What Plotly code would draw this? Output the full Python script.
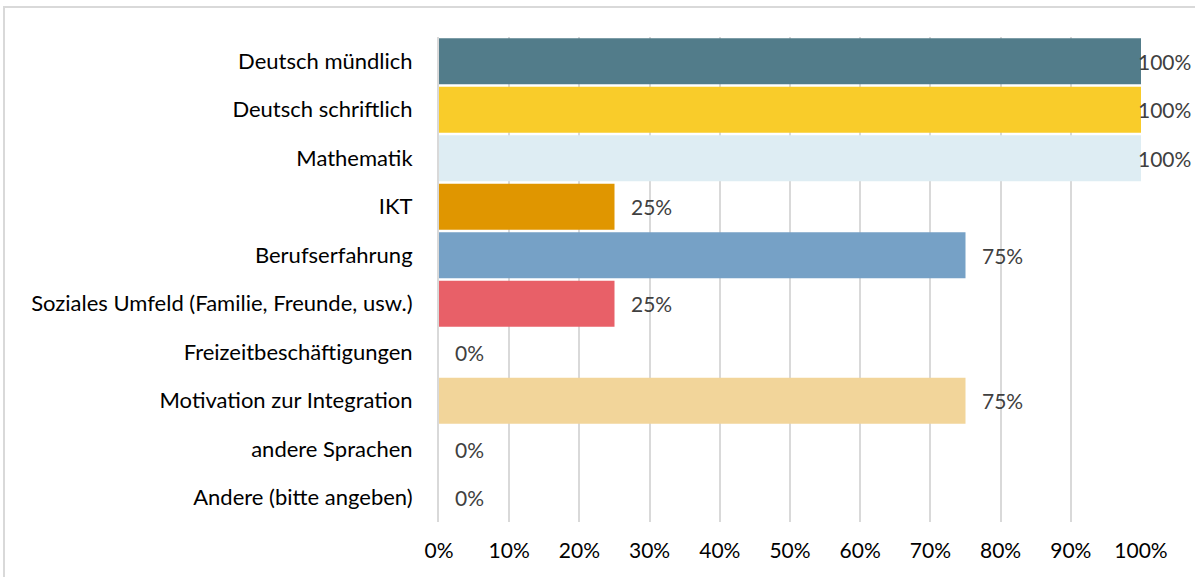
import plotly.graph_objects as go

categories = [
    "Deutsch mündlich", "Deutsch schriftlich", "Mathematik", "IKT",
    "Berufserfahrung", "Soziales Umfeld (Familie, Freunde, usw.)",
    "Freizeitbeschäftigungen", "Motivation zur Integration",
    "andere Sprachen", "Andere (bitte angeben)",
]
values = [100, 100, 100, 25, 75, 25, 0, 75, 0, 0]
colors = ["#527c8a", "#f9cc2a", "#deedf3", "#e09600", "#76a1c6",
          "#e86068", "#cccccc", "#f2d59a", "#cccccc", "#cccccc"]
tick_vals = list(range(0, 101, 10))
tick_text = [f"{v}%" for v in tick_vals]

W, H = 1195, 577
L, R, T, B = 439, 54, 37, 55
pw, ph = W - L - R, H - T - B

FONT = "Lato, 'Open Sans', sans-serif"

fig = go.Figure(go.Bar(
    x=values, y=categories, orientation="h",
    marker=dict(color=colors, line=dict(width=0)),
    hoverinfo="x+y",
))

# Datenbeschriftungen
for cat, v in zip(categories, values):
    fig.add_annotation(
        x=v, y=cat, text=f"{v}%", showarrow=False,
        xanchor="left", xshift=-5 if v >= 100 else 14,
        font=dict(size=21, color="#404040", family=FONT),
    )

# grauer Rahmen um das Diagramm
fig.add_shape(
    type="rect", xref="paper", yref="paper",
    x0=(4 - L) / pw, x1=(W + 5 - L) / pw,
    y0=1 - (H + 5 - T) / ph, y1=1 - (7 - T) / ph,
    line=dict(color="#d9d9d9", width=2), layer="below",
)

fig.update_layout(
    width=W, height=H,
    margin=dict(l=L, r=R, t=T, b=B),
    plot_bgcolor="white", paper_bgcolor="white",
    bargap=0.05, showlegend=False,
    font=dict(family=FONT, size=21, color="#000000"),
    xaxis=dict(
        range=[0, 100], tickvals=tick_vals, ticktext=tick_text,
        showgrid=True, gridcolor="#d9d9d9", gridwidth=2,
        zeroline=False, showline=False, ticklabelstandoff=14,
        tickfont=dict(size=21, color="#000000"),
    ),
    yaxis=dict(
        autorange="reversed", showgrid=False, zeroline=False,
        showline=True, linecolor="#d9d9d9", linewidth=2,
        ticklabelstandoff=20,
        tickfont=dict(size=22, color="#000000"),
    ),
)

fig.write_html(
    "out.html",
    config={"displayModeBar": False},
    post_script="document.body.style.margin = '0';",
)
